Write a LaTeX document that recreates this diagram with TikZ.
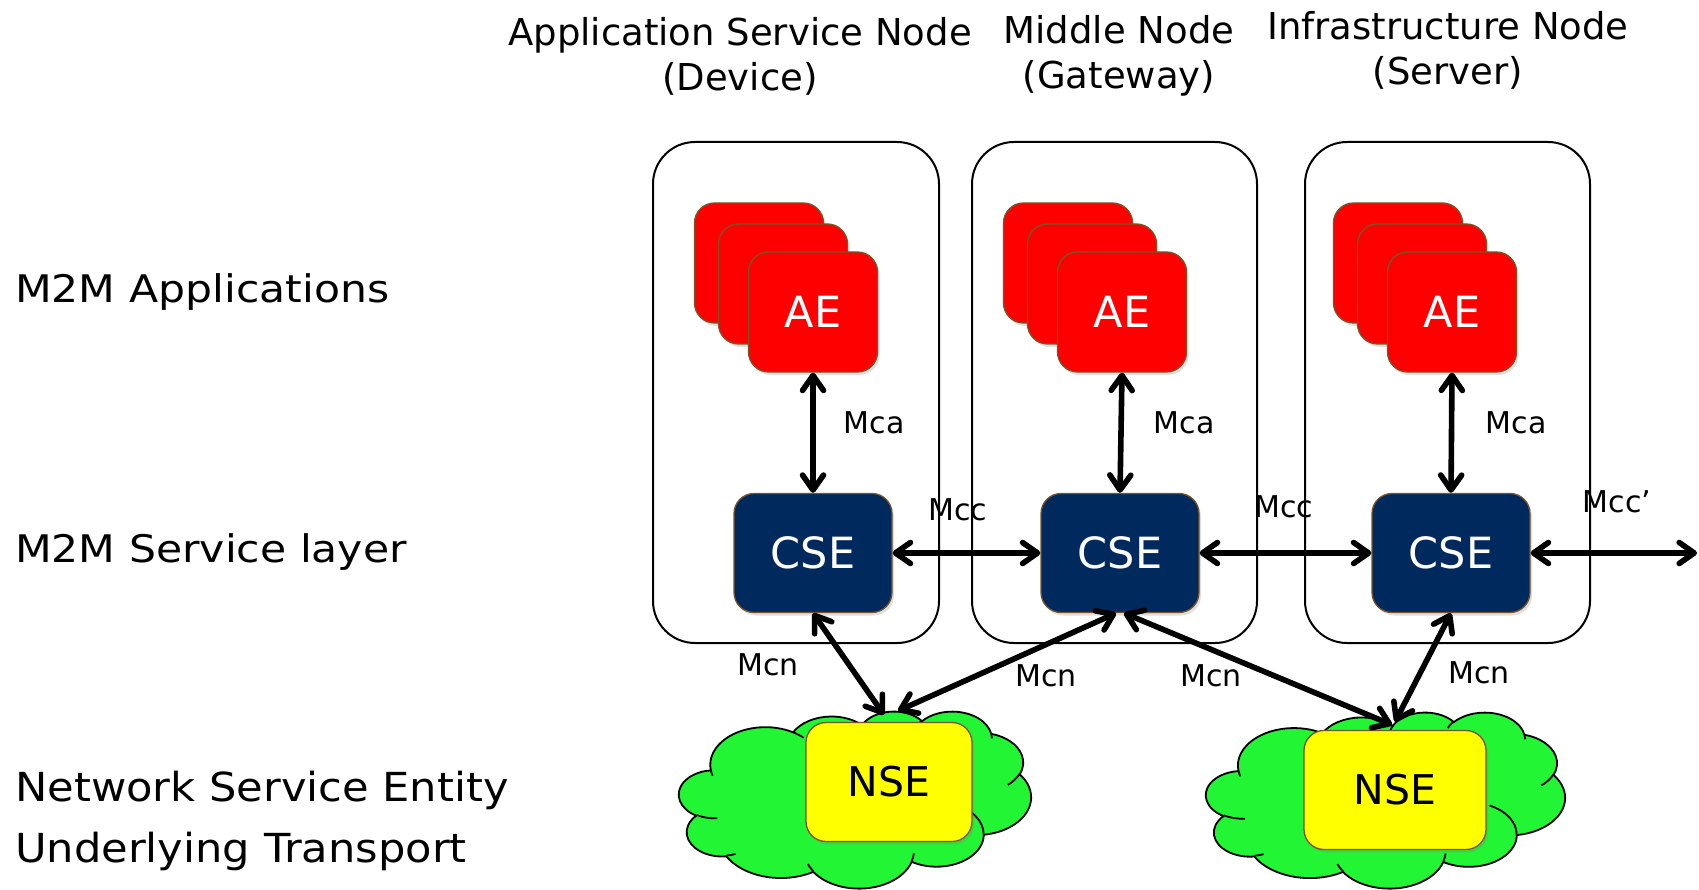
\documentclass[tikz,border=0pt]{standalone}
\usepackage{fontspec}
\setmainfont{DejaVu Sans}
\usetikzlibrary{arrows.meta,shadows}
\definecolor{aered}{RGB}{255,0,0}
\definecolor{csenavy}{RGB}{0,42,94}
\definecolor{edgebrown}{RGB}{122,84,40}
\definecolor{nseyellow}{RGB}{255,255,0}
\definecolor{cloudgreen}{RGB}{34,245,52}
\tikzset{
  container/.style={draw=black, line width=2pt, rounded corners=42pt, inner sep=0pt},
  softshadow/.style={drop shadow={opacity=0.25, shadow xshift=2pt, shadow yshift=-3pt}},
  card/.style={draw=edgebrown, line width=1.3pt, fill=aered, rounded corners=20pt,
    minimum width=129pt, minimum height=120pt, inner sep=0pt, softshadow,
    text=white, font=\fontsize{43}{50}\selectfont},
  csebox/.style={draw=edgebrown, line width=1.3pt, fill=csenavy, rounded corners=20pt,
    minimum width=158pt, minimum height=119pt, inner sep=0pt, softshadow,
    text=white, font=\fontsize{43}{50}\selectfont},
  nsebox/.style={draw=edgebrown, line width=1.3pt, fill=nseyellow, rounded corners=20pt,
    minimum height=119pt, inner sep=0pt, softshadow,
    text=black, font=\fontsize{41}{48}\selectfont},
  cloudline/.style={draw=black, line width=1.8pt, line join=round},
  link/.style={line width=5.6pt,
    {Straight Barb[length=15pt,width=21pt,round]}-{Straight Barb[length=15pt,width=21pt,round]}},
  lbl/.style={font=\fontsize{30}{36}\selectfont, inner sep=0pt},
  hdr/.style={font=\fontsize{37}{45}\selectfont, align=center, inner sep=0pt},
  side/.style={font=\fontsize{38}{44}\selectfont, anchor=west, inner sep=0pt},
  sidebig/.style={font=\fontsize{40}{46}\selectfont, anchor=west, inner sep=0pt}
}
% elliptical arc given by radii and true (not parametric) start angle and sweep
\newcommand\puffarc[4]{arc[x radius=#1, y radius=#2,
  start angle={atan2((#1)*sin(#3),(#2)*cos(#3))},
  delta angle={mod(atan2((#1)*sin((#3)+(#4)),(#2)*cos((#3)+(#4)))-atan2((#1)*sin(#3),(#2)*cos(#3))+720,360)}]}
% cloud outline on a 4320 x 4320 grid, placed with its top left corner at (#1,#2)
\newcommand\netcloud[4]{%
  \begin{scope}[shift={(#1,#2)}, x=#3pt, y=-#4pt]
    \filldraw[cloudline, fill=cloudgreen] (390,1437)
      \puffarc{675.3}{919.0}{-190.4875}{123.7805}
      \puffarc{533.3}{726.7}{-144.1024}{89.9452}
      \puffarc{436.5}{594.5}{-145.8079}{99.7230}
      \puffarc{485.7}{659.5}{-130.9861}{117.2417}
      \puffarc{533.3}{727.3}{-78.7089}{109.0269}
      \puffarc{677.5}{922.0}{-46.2673}{130.2690}
      \puffarc{578.5}{786.7}{0.6250}{114.0333}
      \puffarc{675.2}{921.5}{22.4516}{115.1726}
      \puffarc{772.0}{1054.3}{66.2426}{75.7110}
      \puffarc{436.0}{591.8}{-274.9421}{146.7356}
      \puffarc{434.5}{594.5}{-246.8285}{152.5189}
      -- cycle;
    \draw[cloudline] (469.3,2617.7) \puffarc{434.5}{594.5}{86.7420}{26.4295};
    \draw[cloudline] (692.8,3489.9) \puffarc{436.0}{591.8}{73.6105}{11.4475};
    \draw[cloudline] (1647.8,3909.0) \puffarc{675.2}{921.5}{137.6242}{14.0811};
    \draw[cloudline] (2882.7,3475.1) \puffarc{675.2}{921.5}{6.4533}{15.9984};
    \draw[cloudline] (3412.9,2295.4) \puffarc{578.5}{786.7}{-70.2924}{70.9174};
    \draw[cloudline] (4179.8,1535.4) \puffarc{533.3}{727.3}{30.3180}{27.7515};
    \draw[cloudline] (3832.4,542.6) \puffarc{485.7}{659.5}{-13.7443}{14.8589};
    \draw[cloudline] (2907.8,395.2) \puffarc{485.7}{659.5}{-149.1815}{18.1954};
    \draw[cloudline] (2214.1,472.0) \puffarc{436.5}{594.5}{-163.4943}{17.6864};
    \draw[cloudline] (1400.0,519.2) \puffarc{675.3}{919.0}{-66.7070}{12.3194};
    \draw[cloudline] (412.7,1578.9) \puffarc{675.3}{919.0}{157.6544}{11.8582};
  \end{scope}}
\begin{document}
\begin{tikzpicture}[x=1pt,y=-1pt]
\useasboundingbox (0,0) rectangle (1699,890);

% column headings
\node[hdr] (h1) at (740,56) {Application Service Node\\(Device)};
\node[hdr] (h2) at (1119,56) {Middle Node\\(Gateway)};
\node[hdr] (h3) at (1448,50) {Infrastructure Node\\(Server)};

% layer names
\node[side] (l1) at (15,292) {\scalebox{1.12}[1]{M2M Applications}};
\node[side] (l2) at (15,552) {\scalebox{1.12}[1]{M2M Service layer}};
\node[sidebig] (l3) at (15,790) {\scalebox{1.08}[1]{Network Service Entity}};
\node[sidebig] (l4) at (15,851) {\scalebox{1.08}[1]{Underlying Transport}};

% node containers
\node[container, minimum width=286pt, minimum height=501pt] (dev) at (796,392.5) {};
\node[container, minimum width=285pt, minimum height=501pt] (gw)  at (1114.5,392.5) {};
\node[container, minimum width=285pt, minimum height=501pt] (srv) at (1447.5,392.5) {};

% application entities, stacked
\node[card] (ae1c) at (759,263) {};
\node[card] (ae1b) at (783,284) {};
\node[card] (ae1)  at (813,312) {AE};
\node[card] (ae2c) at (1068,263) {};
\node[card] (ae2b) at (1092,284) {};
\node[card] (ae2)  at (1122,312) {AE};
\node[card] (ae3c) at (1398,263) {};
\node[card] (ae3b) at (1422,284) {};
\node[card] (ae3)  at (1452,312) {AE};

% common service entities
\node[csebox] (cse1) at (813,553) {CSE};
\node[csebox] (cse2) at (1120,553) {CSE};
\node[csebox] (cse3) at (1451,553) {CSE};

% underlying networks
\netcloud{679}{711}{0.081481}{0.040972}
\netcloud{1206}{712}{0.083102}{0.040741}
\node[nsebox, minimum width=166pt] (nse1) at (889,782) {NSE};
\node[nsebox, minimum width=182pt] (nse2) at (1395,790) {NSE};

% reference points
\draw[link] (ae1.south) -- (cse1.north);
\draw[link] (ae2.south) -- (cse2.north);
\draw[link] (ae3.south) -- (cse3.north);
\draw[link] (cse1.east) -- (cse2.west);
\draw[link] (cse2.east) -- (cse3.west);
\coordinate (ext) at (1697,553);
\draw[link] (cse3.east) -- (ext);
\draw[link] (cse1.south) -- ([xshift=-5pt,yshift=7pt]nse1.north);
\draw[link] ([xshift=-4pt]cse2.south) -- ([xshift=9pt,yshift=11pt]nse1.north);
\draw[link] ([xshift=4pt]cse2.south) -- ([xshift=-3pt,yshift=5pt]nse2.north);
\draw[link] (cse3.south) -- ([yshift=8pt]nse2.north);

% reference point labels
\node[lbl] (mca1) at (874,423) {Mca};
\node[lbl] (mca2) at (1184,423) {Mca};
\node[lbl] (mca3) at (1516,423) {Mca};
\node[lbl] (mcc1) at (958,510) {Mcc};
\node[lbl] (mcc2) at (1284,507) {Mcc};
\node[lbl] (mcc3) at (1617,502) {Mcc’};
\node[lbl] (mcn1) at (768,665) {Mcn};
\node[lbl] (mcn2) at (1046,676) {Mcn};
\node[lbl] (mcn3) at (1211,676) {Mcn};
\node[lbl] (mcn4) at (1479,673) {Mcn};
\end{tikzpicture}
\end{document}
